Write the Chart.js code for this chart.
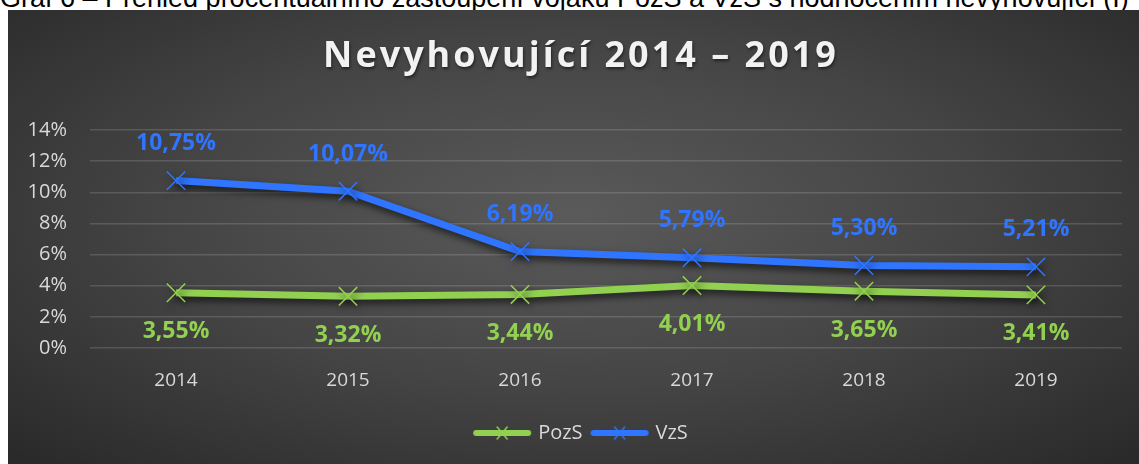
<!DOCTYPE html>
<html>
<head>
<meta charset="utf-8">
<script src="https://cdn.jsdelivr.net/npm/chart.js@4"></script>
<style>
  html, body { margin: 0; padding: 0; background: #fff; overflow: hidden; }
  body { width: 1139px; height: 464px; position: relative; }
  #caption {
    position: absolute; left: 0; top: -15px; white-space: nowrap;
    font-family: "Liberation Sans", Arial, sans-serif; font-size: 27px; line-height: 27px; color: #000;
  }
  #box {
    position: absolute; left: 8px; top: 10px; width: 1131px; height: 454px;
    background: radial-gradient(ellipse 70% 75% at 50% 45%, #5a5a5a 0%, #454545 50%, #2a2a2a 100%);
  }
</style>
</head>
<body>
<div id="caption">Graf 6 – Přehled procentuálního zastoupení vojáků PozS a VzS s hodnocením nevyhovující (I)</div>
<div id="box"><canvas id="chart" width="1131" height="454"></canvas></div>
<script>
// data
var years = ['2014', '2015', '2016', '2017', '2018', '2019'];
var pozs = [3.55, 3.32, 3.44, 4.01, 3.65, 3.41];
var vzs = [10.75, 10.07, 6.19, 5.79, 5.30, 5.21];
var chartTitle = 'Nevyhovující 2014 – 2019';

var green = '#92d050';
var blue = '#2f75ff';
var labelFont = '"Open Sans", "DejaVu Sans", sans-serif';

function fmt(v) {
    return v.toFixed(2).replace('.', ',') + '%';
}

// legend symbol: thick line with an x in the middle
function legendIcon(color) {
    var c = document.createElement('canvas');
    c.width = 60; c.height = 16;
    var g = c.getContext('2d');
    g.strokeStyle = color;
    g.lineCap = 'round';
    g.lineWidth = 6;
    g.beginPath(); g.moveTo(4, 8); g.lineTo(56, 8); g.stroke();
    g.lineWidth = 1.5;
    g.beginPath();
    g.moveTo(25, 2); g.lineTo(35, 14);
    g.moveTo(35, 2); g.lineTo(25, 14);
    g.stroke();
    return c;
}

var shadowPlugin = {
    id: 'shadow',
    beforeDatasetsDraw: function (chart) {
        var ctx = chart.ctx;
        ctx.save();
        ctx.shadowColor = 'rgba(0,0,0,0.65)';
        ctx.shadowBlur = 7;
        ctx.shadowOffsetX = 2;
        ctx.shadowOffsetY = 4;
    },
    afterDatasetsDraw: function (chart) {
        chart.ctx.restore();
    }
};

var labelsPlugin = {
    id: 'valueLabels',
    afterDatasetsDraw: function (chart) {
        var ctx = chart.ctx;
        ctx.save();
        ctx.font = 'bold 23px ' + labelFont;
        ctx.textAlign = 'center';
        ctx.textBaseline = 'middle';
        chart.data.datasets.forEach(function (ds, i) {
            var meta = chart.getDatasetMeta(i);
            ctx.fillStyle = ds.borderColor;
            meta.data.forEach(function (pt, j) {
                var dy = ds.label === 'VzS' ? -37 : 39;
                ctx.fillText(fmt(ds.data[j]), pt.x, pt.y + dy);
            });
        });
        ctx.restore();
    }
};

var titlePlugin = {
    id: 'bigTitle',
    afterDraw: function (chart) {
        var ctx = chart.ctx;
        ctx.save();
        ctx.font = 'bold 36px ' + labelFont;
        ctx.letterSpacing = '3px';
        ctx.fillStyle = '#f2f2f2';
        ctx.textAlign = 'center';
        ctx.textBaseline = 'middle';
        ctx.shadowColor = 'rgba(0,0,0,0.5)';
        ctx.shadowBlur = 3;
        ctx.shadowOffsetX = 1;
        ctx.shadowOffsetY = 2;
        ctx.fillText(chartTitle, 573, 47);
        ctx.restore();
    }
};

// nudge legend so it sits centred under the whole frame
var legendShift = {
    id: 'legendShift',
    afterLayout: function (chart) {
        chart.legend.left += 17;
        chart.legend.right += 17;
    }
};

var ctx = document.getElementById('chart').getContext('2d');
var chart = new Chart(ctx, {
    type: 'line',
    data: {
        labels: years,
        datasets: [{
            label: 'PozS',
            data: pozs,
            borderColor: green,
            backgroundColor: green,
            borderWidth: 7,
            pointStyle: 'crossRot',
            pointRadius: 13,
            pointBorderWidth: 1.5,
            pointBorderColor: green,
            tension: 0,
            fill: false
        }, {
            label: 'VzS',
            data: vzs,
            borderColor: blue,
            backgroundColor: blue,
            borderWidth: 7,
            pointStyle: 'crossRot',
            pointRadius: 13,
            pointBorderWidth: 1.5,
            pointBorderColor: blue,
            tension: 0,
            fill: false
        }]
    },
    options: {
        responsive: false,
        animation: false,
        layout: { padding: { top: 120, right: 17, bottom: 11, left: 0 } },
        plugins: {
            title: { display: false },
            tooltip: { enabled: false },
            legend: {
                position: 'bottom',
                labels: {
                    color: '#d9d9d9',
                    font: { family: labelFont, size: 20 },
                    usePointStyle: true,
                    pointStyleWidth: 52,
                    boxHeight: 16,
                    padding: 11,
                    generateLabels: function (c) {
                        return c.data.datasets.map(function (ds, i) {
                            return {
                                text: ds.label,
                                pointStyle: legendIcon(ds.borderColor),
                                fontColor: '#d9d9d9',
                                strokeStyle: ds.borderColor,
                                fillStyle: ds.borderColor,
                                lineWidth: 0,
                                datasetIndex: i
                            };
                        });
                    }
                }
            }
        },
        scales: {
            x: {
                offset: true,
                grid: { display: false, drawTicks: false },
                border: { display: false },
                ticks: {
                    color: '#d9d9d9',
                    font: { family: labelFont, size: 19 },
                    padding: 21
                },
                afterFit: function (s) { s.height = 64; }
            },
            y: {
                min: 0,
                max: 14,
                grid: { color: 'rgba(255,255,255,0.14)', lineWidth: 1.5, drawTicks: false },
                border: { display: false },
                ticks: {
                    stepSize: 2,
                    color: '#d9d9d9',
                    font: { family: labelFont, size: 20 },
                    padding: 23,
                    callback: function (v) { return v + '%'; }
                },
                afterFit: function (s) { s.width = 82; }
            }
        }
    },
    plugins: [shadowPlugin, labelsPlugin, titlePlugin, legendShift]
});
</script>
</body>
</html>
